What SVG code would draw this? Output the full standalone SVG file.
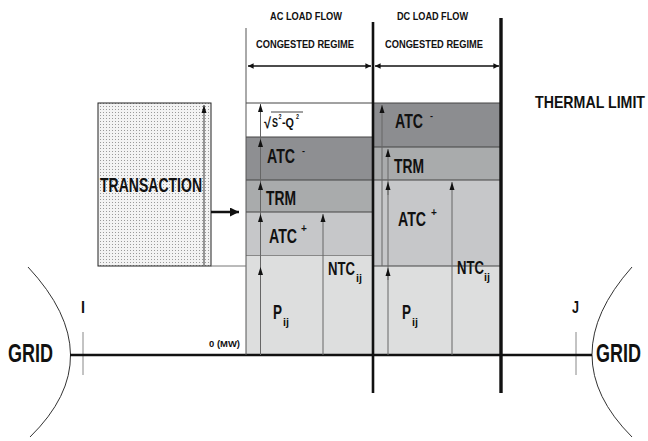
<svg xmlns="http://www.w3.org/2000/svg" width="648" height="441" viewBox="0 0 648 441">
<defs>
<style>
.t{font-family:"Liberation Sans",Arial,sans-serif;font-weight:bold;fill:#111}
.g{stroke:#666;stroke-width:1;fill:none}
.sep{stroke:#444;stroke-width:1}
</style>
<pattern id="dots" width="3" height="3" patternUnits="userSpaceOnUse">
<rect width="3" height="3" fill="#f3f3f3"/>
<rect x="1" y="1" width="1" height="1" fill="#9a9a9a"/>
</pattern>
<marker id="ah" viewBox="0 0 8 10" refX="8" refY="5" markerWidth="8" markerHeight="10" markerUnits="userSpaceOnUse" orient="auto">
<path d="M0,2.5 L8,5 L0,7.5 z" fill="#111"/>
</marker>
<marker id="ahs" viewBox="0 0 8 10" refX="8" refY="5" markerWidth="7" markerHeight="7" markerUnits="userSpaceOnUse" orient="auto-start-reverse">
<path d="M0,1 L8,5 L0,9 z" fill="#111"/>
</marker>
<marker id="ahb" viewBox="0 0 10 10" refX="10" refY="5" markerWidth="10" markerHeight="9" markerUnits="userSpaceOnUse" orient="auto">
<path d="M0,0 L10,5 L0,10 z" fill="#111"/>
</marker>
</defs>
<rect width="648" height="441" fill="#fff"/>

<g id="ac-stack">
<rect x="246" y="103" width="127" height="34" fill="#fff"/>
<rect x="246" y="137" width="127" height="43" fill="#8e8f92"/>
<rect x="246" y="180" width="127" height="32" fill="#a9abac"/>
<rect x="246" y="212" width="127" height="43" fill="#c6c7c9"/>
<rect x="246" y="255" width="127" height="100" fill="#dddede"/>
<line class="sep" x1="246" y1="103" x2="373" y2="103"/>
<line class="sep" x1="246" y1="137" x2="373" y2="137"/>
<line class="sep" x1="246" y1="180" x2="373" y2="180"/>
<line class="sep" x1="246" y1="212" x2="373" y2="212"/>
<line x1="246" y1="255.5" x2="373" y2="255.5" stroke="#888" stroke-width="1"/>
</g>

<g id="dc-stack">
<rect x="373" y="103" width="128" height="44" fill="#8c8d90"/>
<rect x="373" y="147" width="128" height="33" fill="#a9abac"/>
<rect x="373" y="180" width="128" height="86" fill="#c6c7c9"/>
<rect x="373" y="266" width="128" height="89" fill="#dddede"/>
<line class="sep" x1="373" y1="103" x2="501" y2="103"/>
<line class="sep" x1="373" y1="147" x2="501" y2="147"/>
<line class="sep" x1="373" y1="180" x2="501" y2="180"/>
<line class="sep" x1="373" y1="266" x2="501" y2="266"/>
</g>

<g id="transaction">
<rect x="98" y="103" width="113" height="163" fill="url(#dots)" stroke="#222" stroke-width="1"/>
<line x1="204" y1="266" x2="204" y2="105" stroke="#777" stroke-width="1.5" marker-end="url(#ah)"/>
<text class="t" x="100" y="192" font-size="21" textLength="102" lengthAdjust="spacingAndGlyphs">TRANSACTION</text>
</g>

<g id="grid-left">
<path d="M28,267 Q112,357 30,437" fill="none" stroke="#333" stroke-width="1"/>
<text class="t" x="8" y="362" font-size="25" textLength="45" lengthAdjust="spacingAndGlyphs">GRID</text>
<text class="t" x="81" y="313" font-size="16" textLength="4" lengthAdjust="spacingAndGlyphs">I</text>
<line x1="83" y1="332" x2="83" y2="375" stroke="#888" stroke-width="1"/>
</g>

<g id="grid-right">
<path d="M632,267 Q552,357 632,437" fill="none" stroke="#333" stroke-width="1"/>
<text class="t" x="596" y="362" font-size="25" textLength="45" lengthAdjust="spacingAndGlyphs">GRID</text>
<text class="t" x="572" y="313" font-size="16" textLength="7" lengthAdjust="spacingAndGlyphs">J</text>
<line x1="576" y1="332" x2="576" y2="375" stroke="#888" stroke-width="1"/>
</g>

<g id="connectors">
<line x1="70" y1="355" x2="592" y2="355" stroke="#111" stroke-width="2.5"/>
<line x1="246" y1="28" x2="246" y2="355" stroke="#555" stroke-width="1"/>
<line x1="373" y1="22" x2="373" y2="393" stroke="#111" stroke-width="2.6"/>
<line x1="501" y1="18" x2="501" y2="393" stroke="#111" stroke-width="3.4"/>
<line x1="211" y1="266" x2="246" y2="266" stroke="#777" stroke-width="1"/>
<line x1="248" y1="66" x2="371" y2="66" stroke="#111" stroke-width="1.3" marker-start="url(#ahs)" marker-end="url(#ahs)"/>
<line x1="375" y1="66" x2="499" y2="66" stroke="#111" stroke-width="1.3" marker-start="url(#ahs)" marker-end="url(#ahs)"/>
<line x1="211" y1="212" x2="239" y2="212" stroke="#111" stroke-width="2.5" marker-end="url(#ahb)"/>
<line class="g" x1="260.5" y1="355" x2="260.5" y2="104" marker-end="url(#ah)"/>
<line class="g" x1="260.5" y1="150" x2="260.5" y2="139" marker-end="url(#ah)"/>
<line class="g" x1="260.5" y1="192" x2="260.5" y2="182" marker-end="url(#ah)"/>
<line class="g" x1="260.5" y1="225" x2="260.5" y2="214" marker-end="url(#ah)"/>
<line class="g" x1="260.5" y1="280" x2="260.5" y2="267" marker-end="url(#ah)"/>
<line class="g" x1="323" y1="355" x2="323" y2="214" marker-end="url(#ah)"/>
<line class="g" x1="382" y1="266" x2="382" y2="105" marker-end="url(#ah)"/>
<line class="g" x1="388" y1="355" x2="388" y2="149" marker-end="url(#ah)"/>
<line class="g" x1="388" y1="195" x2="388" y2="182" marker-end="url(#ah)"/>
<line class="g" x1="388" y1="280" x2="388" y2="268" marker-end="url(#ah)"/>
<line class="g" x1="452" y1="355" x2="452" y2="182" marker-end="url(#ah)"/>
</g>

<g id="labels">
<text class="t" x="270" y="20" font-size="11.5" textLength="72" lengthAdjust="spacingAndGlyphs">AC LOAD FLOW</text>
<text class="t" x="256" y="48" font-size="11.5" textLength="98" lengthAdjust="spacingAndGlyphs">CONGESTED REGIME</text>
<text class="t" x="397" y="20" font-size="11.5" textLength="71" lengthAdjust="spacingAndGlyphs">DC LOAD FLOW</text>
<text class="t" x="385" y="48" font-size="11.5" textLength="98" lengthAdjust="spacingAndGlyphs">CONGESTED REGIME</text>
<text class="t" x="535" y="108" font-size="17" textLength="110" lengthAdjust="spacingAndGlyphs">THERMAL LIMIT</text>
<text class="t" x="209" y="347" font-size="9.5" font-weight="normal" textLength="31" lengthAdjust="spacingAndGlyphs">0 (MW)</text>

<line x1="271" y1="112" x2="303" y2="112" stroke="#111" stroke-width="0.8"/>
<text class="t" x="264" y="128" font-size="15" font-weight="normal" textLength="7" lengthAdjust="spacingAndGlyphs">√</text>
<text class="t" x="272" y="127" font-size="13" textLength="6" lengthAdjust="spacingAndGlyphs">S</text>
<text class="t" x="278.5" y="119" font-size="7" textLength="3" lengthAdjust="spacingAndGlyphs">2</text>
<text class="t" x="282" y="127" font-size="13" textLength="12" lengthAdjust="spacingAndGlyphs">-Q</text>
<text class="t" x="296" y="119" font-size="7" textLength="3" lengthAdjust="spacingAndGlyphs">2</text>

<text class="t" x="267" y="163" font-size="20" textLength="28" lengthAdjust="spacingAndGlyphs">ATC</text>
<text class="t" x="302" y="154" font-size="9">-</text>
<text class="t" x="266" y="205" font-size="20" textLength="30" lengthAdjust="spacingAndGlyphs">TRM</text>
<text class="t" x="269" y="243" font-size="20" textLength="28" lengthAdjust="spacingAndGlyphs">ATC</text>
<text class="t" x="301" y="232" font-size="10">+</text>
<text class="t" x="328" y="275" font-size="18" textLength="27" lengthAdjust="spacingAndGlyphs">NTC</text>
<text class="t" x="356" y="282" font-size="11" textLength="6" lengthAdjust="spacingAndGlyphs">ij</text>
<text class="t" x="273" y="319" font-size="20" textLength="9" lengthAdjust="spacingAndGlyphs">P</text>
<text class="t" x="283" y="326" font-size="11" textLength="6" lengthAdjust="spacingAndGlyphs">ij</text>

<text class="t" x="395" y="128" font-size="20" textLength="28" lengthAdjust="spacingAndGlyphs">ATC</text>
<text class="t" x="430" y="119" font-size="9">-</text>
<text class="t" x="394" y="173" font-size="20" textLength="30" lengthAdjust="spacingAndGlyphs">TRM</text>
<text class="t" x="398" y="226" font-size="20" textLength="28" lengthAdjust="spacingAndGlyphs">ATC</text>
<text class="t" x="431" y="216" font-size="10">+</text>
<text class="t" x="457" y="274" font-size="18" textLength="27" lengthAdjust="spacingAndGlyphs">NTC</text>
<text class="t" x="484" y="281" font-size="11" textLength="6" lengthAdjust="spacingAndGlyphs">ij</text>
<text class="t" x="402" y="319" font-size="20" textLength="9" lengthAdjust="spacingAndGlyphs">P</text>
<text class="t" x="412" y="326" font-size="11" textLength="6" lengthAdjust="spacingAndGlyphs">ij</text>
</g>
</svg>
